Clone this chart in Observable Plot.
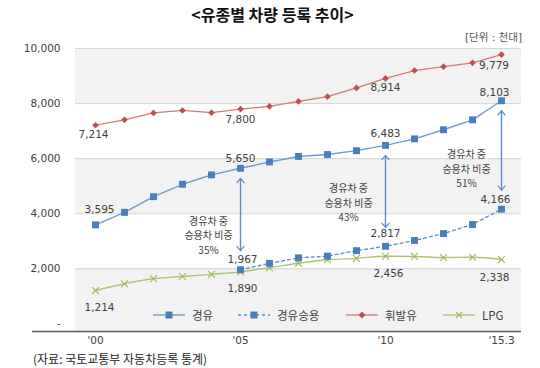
<!DOCTYPE html>
<html>
<head>
<meta charset="utf-8">
<script src="https://cdn.jsdelivr.net/npm/d3@7"></script>
<script src="https://cdn.jsdelivr.net/npm/@observablehq/plot@0.6"></script>
<style>
  body { margin: 0; background: #fff; font-family: 'DejaVu Sans', 'Noto Sans CJK KR', sans-serif; }
  #wrap { position: relative; width: 540px; height: 368px; overflow: hidden; background: #fff; }
  #title { position: absolute; left: 0; top: 4px; width: 545px; text-align: center; font: 700 16px/20px 'Noto Sans CJK KR', sans-serif; color: #111; }
  #unit { position: absolute; right: 18px; top: 29px; font: 10.5px/16px 'DejaVu Sans', 'Noto Sans CJK KR', sans-serif; color: #555; }
  #chart { position: absolute; left: 0; top: 30px; }
  #legend { position: absolute; left: 0; top: 307px; width: 540px; height: 16px; }
  .item { position: absolute; top: 0; height: 16px; display: flex; align-items: center; font: 11.5px/16px 'Noto Sans CJK KR', sans-serif; color: #404040; }
  .item svg { margin-right: 7px; }
  #caption { position: absolute; left: 33px; top: 351px; font: 12px/16px 'Noto Sans CJK KR', sans-serif; color: #222; }
</style>
</head>
<body>
<div id="wrap">
  <div id="title">&lt;유종별 차량 등록 추이&gt;</div>
  <div id="unit">[단위 : 천대]</div>
  <div id="chart"></div>
  <div id="legend"></div>
  <div id="caption">(자료: 국토교통부 자동차등록 통계)</div>
</div>
<script>
// ---- data (thousand vehicles) ----
const years = ["2000","2001","2002","2003","2004","2005","2006","2007","2008","2009","2010","2011","2012","2013","2015.3"];
const tickYears = ["2000","2005","2010","2015.3"];
const tickLabels = ["'00","'05","'10","'15.3"];
const diesel    = [3595,4050,4620,5070,5410,5650,5880,6080,6150,6290,6483,6720,7050,7410,8103];
const dieselCar = [null,null,null,null,null,1967,2200,2400,2460,2660,2817,3030,3280,3610,4166];
const gasoline  = [7214,7410,7660,7750,7670,7800,7900,8080,8250,8570,8914,9200,9340,9480,9779];
const lpg       = [1214,1460,1640,1720,1800,1890,2040,2200,2330,2380,2456,2450,2410,2420,2338];
const shareYears  = ["2005","2010","2015.3"];
const shareLabels = ["35%","43%","51%"];
const seriesNames = ["경유","경유승용","휘발유","LPG"];
const yTicks = [0,2000,4000,6000,8000,10000];

// ---- styles ----
const C = {
  dieselLine: "#6f9bd2", dieselDot: "#4a7ebb",
  carLine: "#5a8ac6",
  gasLine: "#d47a78", gasDot: "#c0504d",
  lpgLine: "#a9c672", lpgDot: "#9bbb59",
  arrow: "#5b8cc8", text: "#404040"
};

const rows = years.map((year, i) => ({year, diesel: diesel[i], car: dieselCar[i], gasoline: gasoline[i], lpg: lpg[i]}));
const fmt = d3.format(",");

// bands between alternating ticks
const bands = [];
for (let i = 0; i < yTicks.length - 1; i += 2) bands.push({lo: yTicks[i], hi: yTicks[i + 1]});

// label offsets (layout only)
const labelOffsets = {
  diesel:   [[4,-15.5],[0,-9.5],[0,-11.5],[-7,-8.5]],
  gasoline: [[-2,9],[0,11],[0,9],[-7.5,11]],
  car:      [[2,-10],[0,-12.5],[-6,-10]],
  lpg:      [[4,17],[2,17],[3,17],[-7,18]]
};
const annOffsets = [[-32,15.5],[-37,6.5],[-35,13]];

const labelMarks = [];
for (const key of Object.keys(labelOffsets)) {
  const idx = key === "car" ? ["2005","2010","2015.3"] : tickYears;
  idx.forEach((yr, k) => {
    const r = rows.find(d => d.year === yr);
    const [dx, dy] = labelOffsets[key][k];
    labelMarks.push(Plot.text([r], {x: "year", y: key, text: d => fmt(d[key]), dx, dy,
      fill: C.text, fontSize: 10.5}));
  });
}

const shareRows = shareYears.map((yr, k) => {
  const r = rows.find(d => d.year === yr);
  return {year: yr, diesel: r.diesel, car: r.car, mid: (r.diesel + r.car) / 2,
          label: "경유차 중\n승용차 비중\n" + shareLabels[k]};
});
const annMarks = shareRows.map((r, k) => Plot.text([r], {
  x: "year", y: "mid", text: "label", dx: annOffsets[k][0], dy: annOffsets[k][1],
  lineHeight: 1.45, fontSize: 10, fill: C.text, fontFamily: "'Noto Sans CJK KR', sans-serif"
}));

const chart = Plot.plot({
  width: 540,
  height: 320,
  marginLeft: 75,
  marginRight: 19,
  marginTop: 18,
  marginBottom: 19,
  style: {fontFamily: "'DejaVu Sans', 'Noto Sans CJK KR', sans-serif", fontSize: "10.5px", color: C.text, background: "transparent"},
  x: {type: "point", domain: years, padding: 0.5, tickSize: 0, tickPadding: 5, label: null,
      tickFormat: d => { const i = tickYears.indexOf(d); return i < 0 ? "" : tickLabels[i]; }},
  y: {domain: [0, 10000], insetBottom: 7.6, ticks: yTicks, tickSize: 0, tickPadding: 15, label: null,
      tickFormat: d => d === 0 ? "-" : fmt(d)},
  marks: [
    Plot.rect(bands.filter(b => b.lo > 0), {y1: "lo", y2: "hi", fill: "#f2f2f2"}),
    Plot.rect(bands.filter(b => b.lo === 0), {y1: "lo", y2: "hi", fill: "#f2f2f2", insetBottom: -7.6}),
    Plot.ruleY(yTicks.filter(d => d > 0), {stroke: "#d4d4d4", strokeWidth: 1}),
    Plot.ruleY([0], {dy: 7.6, stroke: "#5a5a5a", strokeWidth: 1.5, insetLeft: -43}),
    // arrows (double-headed)
    Plot.arrow(shareRows, {x1: "year", x2: "year", y1: "diesel", y2: "car", insetStart: 10, insetEnd: 19,
      stroke: C.arrow, strokeWidth: 1.2, headLength: 7, headAngle: 80}),
    Plot.arrow(shareRows, {x1: "year", x2: "year", y1: "car", y2: "diesel", insetStart: 19, insetEnd: 10,
      stroke: C.arrow, strokeWidth: 1.2, headLength: 7, headAngle: 80}),
    // series
    Plot.line(rows, {x: "year", y: "gasoline", stroke: C.gasLine, strokeWidth: 1.3}),
    Plot.dot(rows, {x: "year", y: "gasoline", symbol: "diamond2", r: 3, fill: C.gasDot, stroke: "none"}),
    Plot.line(rows, {x: "year", y: "lpg", stroke: C.lpgLine, strokeWidth: 1.4, curve: "monotone-x"}),
    Plot.dot(rows, {x: "year", y: "lpg", symbol: "times", r: 3.2, stroke: C.lpgDot, strokeWidth: 1.1}),
    Plot.line(rows, {x: "year", y: "diesel", stroke: C.dieselLine, strokeWidth: 1.4}),
    Plot.dot(rows, {x: "year", y: "diesel", symbol: "square", r: 3.9, fill: C.dieselDot, stroke: "none"}),
    Plot.line(rows.filter(d => d.car != null), {x: "year", y: "car", stroke: C.carLine, strokeWidth: 1.3, strokeDasharray: "3,3"}),
    Plot.dot(rows.filter(d => d.car != null), {x: "year", y: "car", symbol: "square", r: 3.9, fill: C.dieselDot, stroke: "none"}),
    ...labelMarks,
    ...annMarks
  ]
});
document.getElementById("chart").appendChild(chart);

// ---- legend (HTML) ----
const legendItems = [
  {name: seriesNames[0], left: 153, line: C.dieselLine, dash: null, sym: "square", col: C.dieselDot},
  {name: seriesNames[1], left: 238, line: C.carLine, dash: "3,3", sym: "square", col: C.dieselDot},
  {name: seriesNames[2], left: 346, line: C.gasLine, dash: null, sym: "diamond", col: C.gasDot},
  {name: seriesNames[3], left: 443, line: C.lpgLine, dash: null, sym: "times", col: C.lpgDot}
];
const legend = document.getElementById("legend");
for (const it of legendItems) {
  const div = document.createElement("div");
  div.className = "item";
  div.style.left = it.left + "px";
  let sym = "";
  if (it.sym === "square") sym = `<rect x="12.5" y="4.5" width="7" height="7" fill="${it.col}"/>`;
  if (it.sym === "diamond") sym = `<path d="M16 4.5 L19.5 8 L16 11.5 L12.5 8 Z" fill="${it.col}"/>`;
  if (it.sym === "times") sym = `<path d="M13 5 L19 11 M19 5 L13 11" stroke="${it.col}" stroke-width="1.1"/>`;
  div.innerHTML = `<svg width="32" height="16"><line x1="0" x2="32" y1="8" y2="8" stroke="${it.line}" stroke-width="1.4" ${it.dash ? `stroke-dasharray="${it.dash}"` : ""}/>${sym}</svg><span>${it.name}</span>`;
  legend.appendChild(div);
}
</script>
</body>
</html>
